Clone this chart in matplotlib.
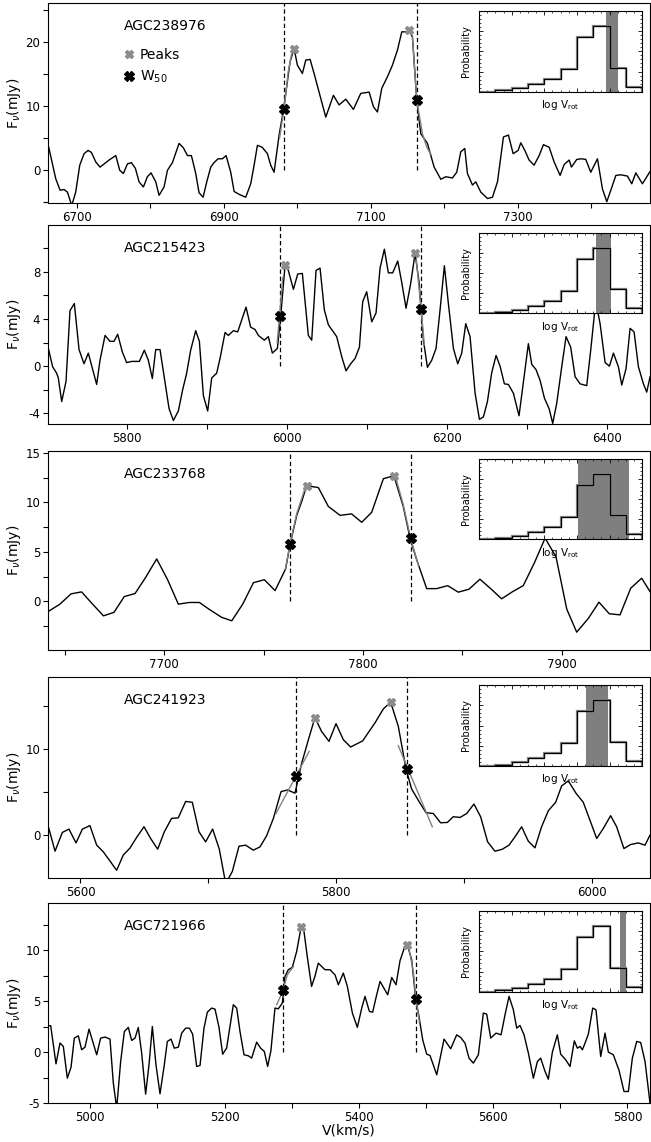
import matplotlib
matplotlib.use('Agg')
import matplotlib.pyplot as plt
from matplotlib.ticker import MultipleLocator, NullFormatter
import numpy as np

plt.rcParams['font.family'] = ['DejaVu Sans']
plt.rcParams['axes.unicode_minus'] = False
plt.rcParams['mathtext.fontset'] = 'dejavusans'

# ---------------- data ----------------
names = ["AGC238976", "AGC215423", "AGC233768", "AGC241923", "AGC721966"]

v1 = [6662, 6671.5, 6677.4, 6682.9, 6687.4, 6693.3, 6698.7, 6704.2, 6710.1, 6715.5,
      6720.0, 6726.0, 6731.8, 6737.3, 6744.1, 6753.2, 6758.6, 6763.6, 6769.0, 6774.5,
      6779.9, 6784.9, 6790.8, 6796.2, 6801.2, 6807.6, 6812.1, 6818.9, 6823.5, 6830.3,
      6839.3, 6845.2, 6850.7, 6856.1, 6862.0, 6866.5, 6872.0, 6877.0, 6882.4, 6886.9,
      6892.4, 6898.3, 6903.3, 6909.6, 6914.2, 6921.0, 6930.0, 6936.8, 6941.4, 6945.9,
      6952.4, 6959.5, 6964.0, 6968.6, 6975.4, 6981.3, 6984.5, 6990.3, 6995.8, 7000.3,
      7007.1, 7011.7, 7017.6, 7023.0, 7029.8, 7038.9, 7049.3, 7057.0, 7066.1, 7076.5,
      7086.5, 7097.9, 7103.8, 7109.2, 7115.1, 7122.8, 7129.6, 7136.4, 7142.3, 7149.1,
      7152.3, 7156.8, 7162.7, 7168.2, 7177.2, 7186.3, 7195.4, 7202.2, 7211.2, 7217.1,
      7222.6, 7228.0, 7231.6, 7238.5, 7243.0, 7249.8, 7258.9, 7265.7, 7272.5, 7280.6,
      7287.4, 7293.8, 7300.6, 7304.2, 7309.7, 7315.5, 7322.3, 7329.2, 7335.0, 7342.8,
      7349.6, 7357.7, 7363.2, 7370.0, 7373.1, 7380.4, 7386.7, 7392.6, 7399.4, 7408.5,
      7415.3, 7421.2, 7426.7, 7433.5, 7440.3, 7449.3, 7455.2, 7460.7, 7469.7, 7481.1]
f1 = [3.6, -1.3, -3.1, -3.0, -3.4, -5.5, -3.4, 0.8, 2.6, 3.1,
      2.8, 1.3, 0.5, 1.0, 1.6, 2.3, 0.0, -0.5, 1.0, 1.2,
      0.3, -1.8, -2.6, -1.0, -0.4, -1.8, -3.9, -2.6, 0.0, 1.2,
      4.2, 3.5, 2.3, 2.3, -0.5, -3.5, -4.2, -1.8, 0.5, 1.2,
      1.8, 1.8, 2.3, -0.3, -3.3, -3.75, -4.2, -2.1, 0.8, 3.9,
      3.6, 2.6, 0.8, -0.3, 5.5, 9.4, 12.0, 16.9, 19.0, 16.4,
      15.1, 17.2, 17.3, 15.1, 12.2, 8.3, 11.7, 10.2, 11.1, 9.5,
      12.0, 12.2, 9.9, 9.1, 12.8, 14.6, 16.4, 18.75, 21.6, 21.6,
      21.9, 20.8, 10.9, 5.7, 4.2, 0.5, -1.4, -1.0, -1.2, -0.3,
      2.9, 3.4, -0.5, -2.3, -1.8, -3.4, -4.4, -4.2, -1.8, 5.2,
      5.5, 2.6, 3.1, 4.3, 3.1, 1.6, 0.8, 2.3, 4.0, 3.6,
      1.3, -0.8, 0.9, 1.6, 0.5, 1.7, 1.8, 1.7, -0.3, 1.8,
      -2.9, -4.9, -3.1, -0.8, -0.7, -0.9, -2.1, -0.4, -2.1, 0.0]

v2 = [5702.0, 5707.4, 5712.4, 5714.5, 5718.7, 5724.1, 5729.1, 5734.5, 5740.4, 5746.6,
      5752.0, 5762.4, 5766.6, 5772.9, 5779.1, 5784.1, 5788.7, 5794.5, 5799.9, 5806.2,
      5812.4, 5815.8, 5822.0, 5827.0, 5832.0, 5836.2, 5841.6, 5848.7, 5852.9, 5858.3,
      5864.5, 5869.9, 5874.9, 5879.9, 5886.2, 5890.8, 5895.8, 5901.2, 5906.2, 5912.4,
      5916.6, 5922.9, 5927.0, 5933.3, 5938.7, 5949.1, 5954.9, 5960.4, 5964.5, 5972.0,
      5977.0, 5982.0, 5988.3, 5992.4, 5997.9, 6002.0, 6008.3, 6013.7, 6019.5, 6027.0,
      6031.2, 6036.6, 6041.6,
      6047.0, 6052.0, 6062.4, 6068.7, 6074.1, 6079.9, 6085.4, 6090.8, 6094.9, 6099.9,
      6106.2, 6111.6, 6116.6, 6122.0, 6127.0, 6132.4, 6138.7, 6143.7, 6149.1, 6154.9,
      6160.4, 6165.4, 6167.9, 6170.8, 6175.8, 6181.2, 6186.6, 6191.6, 6197.0, 6202.0,
      6208.3, 6213.7, 6218.7, 6223.7, 6229.1, 6235.4, 6240.8, 6245.8, 6250.8, 6256.2,
      6261.6, 6266.6, 6272.0, 6277.0, 6283.3, 6290.3, 6296.6, 6302.0, 6306.2, 6311.6,
      6316.6, 6322.0, 6327.9, 6332.4, 6337.4, 6343.7, 6349.1, 6354.9, 6360.4, 6366.6,
      6374.9, 6379.9, 6386.2, 6391.6, 6397.9, 6403.3, 6408.3, 6414.5, 6418.7, 6424.1,
      6429.1, 6434.1, 6439.5, 6445.8, 6449.9, 6454.1]
f2 = [1.5, -0.05, -0.6, -1.0, -3.0, -1.3, 4.7, 5.3, 1.4, 0.2,
      1.1, -1.55, 0.5, 2.6, 2.1, 2.1, 2.7, 1.2, 0.3, 0.4,
      0.4, 0.4, 1.35, 0.5, -1.05, 1.4, 1.4, -1.75, -3.6, -4.6,
      -3.8, -2.0, -0.6, 1.35, 3.0, 2.1, -2.5, -3.8, -1.0, -0.6,
      0.65, 2.85, 2.6, 3.0, 2.9, 5.0, 3.3, 3.1, 2.6, 2.2,
      2.5, 1.1, 1.5, 4.2, 8.56, 8.1, 6.5, 7.8, 7.85, 2.6,
      2.2, 8.1, 8.3,
      4.75, 3.5, 2.5, 0.8, -0.4, 0.2, 0.65, 1.6, 5.45, 6.3,
      3.75, 4.5, 8.3, 9.9, 7.9, 7.9, 8.9, 7.1, 4.9, 7.0,
      9.55, 7.1, 4.8, 2.2, -0.1, 0.5, 1.5, 4.75, 8.5, 5.3,
      1.5, 0.2, 1.1, 3.6, 2.5, -2.3, -4.5, -4.3, -3.0, -0.55,
      0.9, 0.0, -1.5, -1.55, -2.3, -4.2, -0.9, 1.9, 0.15, -0.3,
      -1.2, -2.7, -3.6, -4.85, -3.15, -0.05, 2.5, 1.6, -0.9, -1.5,
      -1.65, 1.35, 5.5, 3.6, 0.3, 0.0, 1.1, -0.05, -1.6, -0.2,
      3.2, 2.9, -0.05, -1.5, -2.2, -0.9]

v3 = [7641.7, 7647.5, 7653.1, 7658.4, 7663.5, 7669.4, 7674.7, 7679.9, 7685.3, 7690.7,
      7696.2, 7701.7, 7707.1, 7712.6, 7717.7, 7723.0, 7728.9, 7734.0, 7739.5, 7744.9,
      7750.4, 7755.8, 7761.1, 7763.3, 7766.7, 7769.2, 7771.7, 7777.6,
      7782.6, 7788.5, 7794.3, 7799.4, 7804.4, 7810.3, 7815.6, 7820.3, 7823.7, 7827.1,
      7832.1, 7837.1, 7842.7, 7848.0, 7853.4, 7858.9, 7864.3, 7869.8, 7875.4, 7880.7,
      7886.3, 7891.7, 7897.2, 7902.6, 7907.6, 7913.5, 7918.8, 7924.0, 7929.4, 7934.8,
      7940.3, 7944.5]
f3 = [-1.0, -0.27, 0.77, 0.97, -0.17, -1.45, -1.1, 0.5, 0.8, 2.45,
      4.3, 2.2, -0.27, -0.1, -0.1, -0.84, -1.6, -1.95, -0.27, 1.9,
      2.2, 1.1, 3.3, 5.7, 8.7, 10.1, 11.7, 11.5,
      9.6, 8.7, 8.85, 8.0, 9.0, 12.4, 12.7, 9.6, 6.4, 4.2,
      1.3, 1.3, 1.6, 0.94, 1.24, 2.25, 1.3, 0.27, 1.0, 1.6,
      3.9, 6.4, 4.5, -0.77, -3.1, -1.7, -0.07, -1.24, -1.35, 1.34,
      2.35, 1.0]

v4 = [5574.9, 5580.1, 5585.8, 5591.0, 5596.5, 5601.5, 5607.4, 5612.7, 5617.9, 5623.1,
      5628.3, 5633.5, 5638.7, 5643.9, 5649.7, 5654.9, 5660.4, 5665.6, 5671.3, 5676.5,
      5682.3, 5687.5, 5692.7, 5697.9, 5703.4, 5708.6, 5713.6, 5718.8, 5724.0, 5729.2,
      5735.2, 5740.4, 5745.6, 5750.9, 5756.9, 5762.1, 5767.8, 5773.0, 5778.2, 5783.4,
      5788.6,
      5794.4, 5799.9, 5805.6, 5811.3, 5820.7, 5830.4, 5836.9, 5842.6, 5848.6, 5854.6,
      5859.0, 5864.8, 5870.3, 5876.0, 5881.7, 5887.0, 5891.6, 5896.9, 5902.1, 5907.8,
      5913.0, 5918.5, 5924.2, 5930.0, 5935.2, 5939.9, 5945.1, 5950.3, 5955.5, 5960.7,
      5966.0, 5971.7, 5976.4, 5981.6, 5987.6, 5993.3, 5998.5, 6003.8, 6009.0, 6014.7,
      6019.4, 6025.1, 6030.3, 6036.3, 6041.6, 6045.5]
f4 = [0.97, -1.86, 0.31, 0.7, -0.9, 0.7, 1.1, -1.16, -1.94, -3.0,
      -4.07, -2.3, -1.5, -0.27, 0.97, -0.39, -1.63, 0.39, 1.94, 2.0,
      3.9, 3.8, 0.39, -0.78, 0.7, -1.63, -5.6, -4.2, -1.28, -1.16,
      -1.74, -1.36, -0.08, 1.94, 5.04, 5.23, 4.85, 8.3, 11.0, 13.6,
      12.0,
      10.85, 12.9, 11.05, 10.2, 10.9, 13.0, 14.6, 15.4, 12.6, 7.7,
      5.35, 3.9, 2.6, 2.5, 1.43, 1.47, 2.13, 2.05, 2.5, 3.6,
      2.13, -0.78, -1.86, -1.63, -1.16, -0.19, 0.97, -0.7, -1.47, 0.97,
      2.83, 3.8, 5.7, 6.28, 4.85, 3.8, 1.74, -0.39, 0.78, 2.25,
      0.97, -1.55, -1.09, -0.9, -1.16, 0.0]

v5 = [4937.6, 4941.1, 4949.0, 4955.0, 4959.9, 4965.9, 4971.4, 4976.3, 4982.3, 4987.2,
      4992.2, 4998.2, 5003.6, 5009.6, 5015.5, 5022.0, 5029.4, 5034.4, 5039.4, 5045.3,
      5050.8, 5056.7, 5061.7, 5066.7, 5071.6, 5076.6, 5082.5, 5087.5, 5092.5, 5097.9,
      5103.9, 5110.3, 5114.8, 5120.3, 5125.2, 5131.2, 5136.2, 5142.1, 5147.6, 5152.5,
      5158.5, 5163.5, 5169.4, 5174.4, 5180.8, 5185.8, 5191.7, 5197.2, 5203.1, 5209.1,
      5213.1, 5218.1, 5223.0, 5229.0, 5235.4, 5240.4, 5247.8, 5253.8, 5259.2, 5264.2,
      5269.1, 5275.1, 5280.1, 5286.1, 5290.0, 5295.0, 5300.9, 5307.4, 5313.8, 5318.3,
      5323.2, 5329.6, 5334.6, 5339.6,
      5349.6, 5357.1, 5364.5, 5369.5, 5376.9, 5382.9, 5390.4, 5397.8, 5404.3, 5409.2,
      5415.7, 5420.6, 5426.6, 5431.6, 5436.5, 5443.0, 5448.9, 5455.4, 5461.3, 5467.3,
      5472.3, 5478.7, 5484.7, 5489.6, 5495.1, 5501.1, 5506.0, 5516.0, 5526.9, 5536.8,
      5545.7, 5551.7, 5558.1, 5564.1, 5570.5, 5578.0, 5585.4, 5590.4, 5596.4, 5604.3,
      5611.8, 5617.7, 5623.7, 5630.1, 5635.1, 5640.0, 5646.0, 5652.5, 5659.9, 5665.9,
      5670.8, 5677.3, 5682.2, 5688.2, 5695.6, 5700.6, 5708.0, 5714.5, 5720.9, 5725.4,
      5729.4, 5732.9, 5737.8, 5741.8, 5748.3, 5753.2, 5760.2, 5766.6, 5771.6, 5779.0,
      5787.5, 5794.9, 5801.4, 5807.3, 5813.8, 5819.7, 5826.2, 5833.6]
f5 = [2.6, 2.6, -1.15, 0.9, 0.56, -2.56, -1.48, 1.38, 1.6, 0.23,
      0.49, 2.26, 1.05, -0.26, 1.38, 1.48, 1.28, -3.05, -5.5, -0.92,
      2.03, 2.43, 1.15, 1.38, 2.43, -0.1, -4.13, -1.25, 2.52, -1.25,
      -4.1, -1.25, 1.05, 1.28, 0.39, 0.49, 1.87, 2.36, 2.36, 1.77,
      -1.41, -1.31, 2.36, 3.93, 4.33, 4.23, 2.46, -0.2, 0.39, 2.92,
      4.66, 4.33, 2.03, -0.26, -0.36, -0.59, 0.98, 0.39, 0.07, -1.41,
      0.16, 4.33, 4.26, 4.82, 7.44, 8.1, 8.33, 9.9, 12.2, 11.87,
      9.4, 6.46, 7.44, 8.75,
      8.1, 8.1, 7.6, 6.62, 7.77, 6.46, 3.84, 2.43, 4.33, 5.48,
      4.0, 3.93, 5.64, 6.95, 6.39, 5.64, 7.34, 6.62, 8.98, 10.16,
      10.5, 9.08, 5.2, 3.5, 1.21, -0.2, -0.33, -2.23, 1.28, 0.33,
      1.7, 1.44, 0.89, -0.59, -1.08, -0.26, 3.84, 3.74, 1.38, 1.87,
      1.7, 3.67, 5.48, 4.16, 2.36, 2.62, 1.7, -0.1, -2.56, -0.92,
      -0.59, -1.9, -2.66, 0.0, 1.7, -0.2, -0.75, -1.41, 1.11, 0.39,
      0.56, 0.23, 1.05, 1.77, 4.33, 4.16, -0.43, 1.87, 0.0, -0.26,
      -1.8, -3.87, -3.87, -0.59, 1.05, 0.95, -0.92, -5.0]

# peaks (velocity, flux) and W50 points (velocity, flux)
peaks_v = [[6995.8, 7152.3], [5997.9, 6160.4], [7771.7, 7815.6], [5783.4, 5842.6], [5313.8, 5472.3]]
peaks_f = [[19.0, 21.9], [8.56, 9.55], [11.7, 12.7], [13.6, 15.4], [12.3, 10.5]]
w50_v = [[6982.0, 7162.7], [5991.0, 6167.9], [7763.3, 7824.0], [5768.3, 5855.7], [5287.6, 5485.0]]
w50_f = [[9.5, 10.9], [4.25, 4.8], [5.8, 6.4], [6.8, 7.7], [6.07, 5.2]]

# grey wing fits (velocity, flux)
fit_left_v = [[6976, 6982, 6988, 6993], [5988, 5991, 5995], [7761, 7763.3, 7766.7, 7770.5],
              [5752.9, 5778.9], [5277.6, 5286.6, 5293.5, 5302.4]]
fit_left_f = [[5.0, 9.5, 15.5, 18.5], [2.0, 4.25, 7.5], [3.3, 5.8, 8.9, 11.2],
              [2.5, 9.7], [4.66, 5.97, 7.6, 8.4]]
fit_right_v = [[7156.8, 7162.7, 7170.4, 7176.3, 7181.8], [6162, 6167.9, 6172], [7816.5, 7820.3, 7824.0, 7828.0],
               [5848.6, 5875.2], [5473.7, 5481.2, 5485.0, 5490.1]]
fit_right_f = [[20.8, 10.9, 5.7, 3.6, 2.5], [9.0, 4.8, 1.8], [12.5, 9.8, 6.4, 3.6],
               [10.35, 0.97], [10.5, 7.9, 5.2, 3.0]]

# posterior histogram of log Vrot (inset), bins in arbitrary units
hist_edges = list(range(11))
hist_prob = [0.0, 0.021, 0.046, 0.096, 0.158, 0.283, 0.679, 0.8125, 0.296, 0.0625]
band_lo = [7.80, 7.19, 6.04, 6.55, 8.67]
band_hi = [8.50, 8.11, 9.22, 7.91, 9.03]

specs_v = [v1, v2, v3, v4, v5]
specs_f = [f1, f2, f3, f4, f5]

xlims = [(6661, 7480), (5701.6, 6454), (7641.5, 7944.5), (5574.6, 6045.5), (4937.1, 5833.6)]
ylims = [(-5.1, 26.1), (-4.9, 11.95), (-4.9, 15.2), (-4.96, 18.3), (-5.0, 14.66)]
xmaj = [200, 200, 100, 200, 200]
xoff = [100, 0, 0, 0, 0]
ymaj = [10, 4, 5, 10, 5]

# ---------------- figure ----------------
W, H = 651, 1142
fig = plt.figure(figsize=(W / 100, H / 100), dpi=100)
tops = [3, 225, 451, 677, 903]
bots = [203, 424, 650, 878, 1103]
left_px, right_px = 48, 650

for i in range(5):
    ax = fig.add_axes([left_px / W, 1 - bots[i] / H, (right_px - left_px) / W, (bots[i] - tops[i]) / H])
    ax.plot(specs_v[i], specs_f[i], color='k', lw=1.0, zorder=2)
    ax.plot(fit_left_v[i], fit_left_f[i], color='#808080', lw=1.0, zorder=2.5)
    ax.plot(fit_right_v[i], fit_right_f[i], color='#808080', lw=1.0, zorder=2.5)
    ax.set_xlim(*xlims[i])
    ax.set_ylim(*ylims[i])
    ylo, yhi = ylims[i]
    for xv in w50_v[i]:
        ax.axvline(xv, ymin=(0 - ylo) / (yhi - ylo), ymax=1, color='k', lw=0.9,
                   ls=(0, (3.5, 2.2)), zorder=1.5)
    hp, = ax.plot(peaks_v[i], peaks_f[i], ls='none', marker='X', ms=5.2, color='#8c8c8c',
                  mec='#8c8c8c', zorder=4, label='Peaks')
    hw, = ax.plot(w50_v[i], w50_f[i], ls='none', marker='X', ms=6.8, color='k',
                  zorder=5, label='W$_{50}$')
    ax.text(0.126, 0.885, names[i], transform=ax.transAxes, fontsize=10, va='center', ha='left')
    if i == 0:
        ax.legend(handles=[hp, hw], loc='upper left', bbox_to_anchor=(0.126, 0.775),
                  frameon=False, fontsize=10, handlelength=0.8, handletextpad=0.35,
                  borderpad=0, borderaxespad=0, labelspacing=0.5)

    ax.xaxis.set_major_locator(MultipleLocator(xmaj[i], offset=xoff[i]))
    ax.xaxis.set_minor_locator(MultipleLocator(xmaj[i] / 2))
    ax.yaxis.set_major_locator(MultipleLocator(ymaj[i]))
    ax.yaxis.set_minor_locator(MultipleLocator(ymaj[i] / 2))
    ax.tick_params(which='both', direction='out', length=3.5, width=0.8, labelsize=8.5, pad=2)
    for sp in ax.spines.values():
        sp.set_linewidth(0.8)
    ax.set_ylabel(r'F$_\nu$(mJy)', fontsize=10)
    ax.yaxis.set_label_coords(-0.042, 0.5)
    if i == 4:
        ax.set_xlabel('V(km/s)', fontsize=10, labelpad=0)

    # inset: posterior of log Vrot
    ins = ax.inset_axes([0.716, 0.556, 0.271, 0.405])
    ins.axvspan(band_lo[i], band_hi[i], color='#7f7f7f', lw=0, zorder=1)
    ins.stairs(hist_prob, hist_edges, color='#888888', lw=1.6, zorder=2)
    ins.stairs(hist_prob, hist_edges, color='k', lw=0.9, zorder=3)
    ins.set_xlim(0, 10)
    ins.set_ylim(0, 1)
    ins.xaxis.set_major_locator(MultipleLocator(2))
    ins.xaxis.set_minor_locator(MultipleLocator(0.5))
    ins.yaxis.set_major_locator(MultipleLocator(0.25))
    ins.yaxis.set_minor_locator(MultipleLocator(0.05))
    ins.xaxis.set_major_formatter(NullFormatter())
    ins.yaxis.set_major_formatter(NullFormatter())
    ins.tick_params(which='major', direction='in', length=3, width=0.6, top=True, right=True)
    ins.tick_params(which='minor', direction='in', length=1.5, width=0.5, top=True, right=True)
    for sp in ins.spines.values():
        sp.set_linewidth(0.8)
    ins.set_ylabel('Probability', fontsize=7, labelpad=2)
    ins.set_xlabel(r'log V$_{\rm rot}$', fontsize=7.5, labelpad=1)

fig.savefig('out.png', dpi=100)
